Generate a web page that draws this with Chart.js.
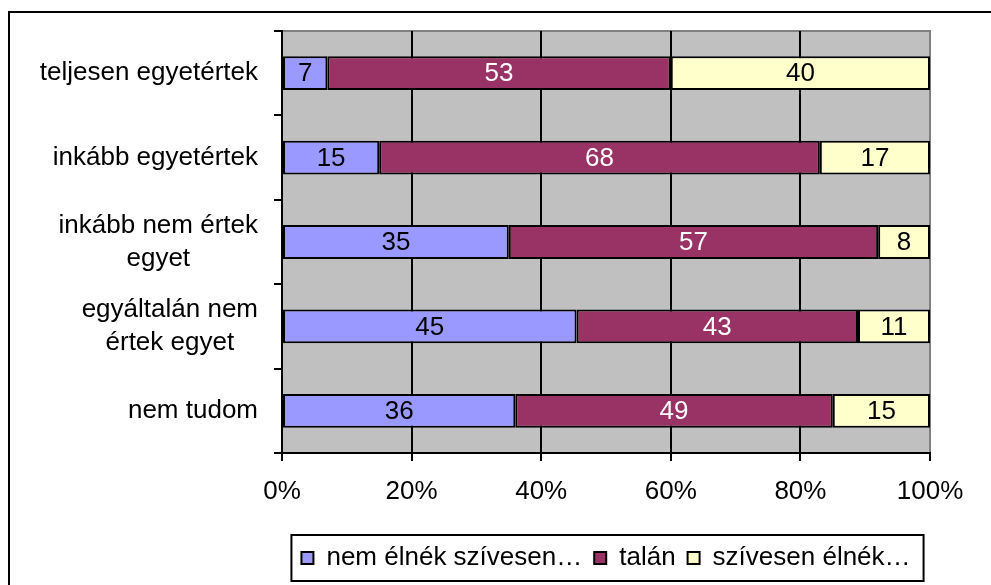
<!DOCTYPE html>
<html lang="hu">
<head>
    <meta charset="UTF-8">
    <title>Kérdőív</title>
    <script src="https://cdn.jsdelivr.net/npm/chart.js"></script>
    <style>
        body {
            margin: 0;
            padding: 0;
            background: #fff;
        }
        .wrap {
            width: 991px;
            height: 585px;
            position: relative;
        }
    </style>
</head>
<body>
<div class="wrap">
    <canvas id="chart"></canvas>
</div>
<script>
    const categories = ['teljesen egyetértek', 'inkább egyetértek', ['inkább nem értek', 'egyet'], ['egyáltalán nem', 'értek egyet'], 'nem tudom'];
    const seriesNames = ['nem élnék szívesen…', 'talán', 'szívesen élnék…'];
    const nemElnek = [7, 15, 35, 45, 36];
    const talan = [53, 68, 57, 43, 49];
    const szivesen = [40, 17, 8, 11, 15];
    const xTickValues = [0, 20, 40, 60, 80, 100];

    const FONT = '"Liberation Sans", Arial, sans-serif';
    const raw = [nemElnek, talan, szivesen];
    const totals = categories.map((c, i) => nemElnek[i] + talan[i] + szivesen[i]);
    const toPct = arr => arr.map((v, i) => v / totals[i] * 100);

    const colors = ['#9999ff', '#993366', '#ffffcc'];
    const labelColors = ['#000', '#fff', '#000'];

    // grey plot area + outer frame + legend frame
    const framePlugin = {
        id: 'frame',
        beforeDraw(chart) {
            const ctx = chart.ctx;
            const a = chart.chartArea;
            ctx.save();
            ctx.fillStyle = '#fff';
            ctx.fillRect(0, 0, chart.width, chart.height);
            ctx.strokeStyle = '#000';
            ctx.lineWidth = 2;
            ctx.strokeRect(9, 12, chart.width + 20, chart.height + 20);
            ctx.fillStyle = '#c0c0c0';
            ctx.fillRect(a.left, a.top, a.right - a.left, a.bottom - a.top);
            ctx.strokeStyle = '#808080';
            ctx.lineWidth = 2;
            ctx.strokeRect(a.left, a.top, a.right - a.left, a.bottom - a.top);
            ctx.restore();
        },
        afterDraw(chart) {
            const ctx = chart.ctx;
            const hb = chart.legend.legendHitBoxes;
            if (!hb || !hb.length) return;
            const first = hb[0], last = hb[hb.length - 1];
            const cy = first.top + first.height / 2;
            ctx.save();
            ctx.strokeStyle = '#000';
            ctx.lineWidth = 2;
            ctx.strokeRect(first.left - 10, cy - 23, last.left + last.width - first.left + 23, 46);
            ctx.restore();
        }
    };

    // category labels, right aligned block with centred lines
    const catLabelPlugin = {
        id: 'catLabels',
        afterDraw(chart) {
            const ctx = chart.ctx;
            const y = chart.scales.y;
            const lineH = 33;
            ctx.save();
            ctx.font = '26px ' + FONT;
            ctx.fillStyle = '#000';
            ctx.textBaseline = 'middle';
            ctx.textAlign = 'center';
            categories.forEach((cat, i) => {
                const lines = Array.isArray(cat) ? cat : [cat];
                const w = Math.max(...lines.map(l => ctx.measureText(l).width));
                const cx = y.right - 24 - w / 2;
                const cy = y.getPixelForValue(i);
                lines.forEach((l, k) => {
                    ctx.fillText(l, cx, cy + (k - (lines.length - 1) / 2) * lineH);
                });
            });
            ctx.restore();
        }
    };

    const valueLabelPlugin = {
        id: 'valueLabels',
        afterDatasetsDraw(chart) {
            const ctx = chart.ctx;
            ctx.save();
            ctx.font = '26px ' + FONT;
            ctx.textAlign = 'center';
            ctx.textBaseline = 'middle';
            chart.data.datasets.forEach((ds, di) => {
                const meta = chart.getDatasetMeta(di);
                meta.data.forEach((bar, i) => {
                    ctx.fillStyle = labelColors[di];
                    ctx.fillText(String(raw[di][i]), (bar.x + bar.base) / 2, bar.y + 1);
                });
            });
            ctx.restore();
        }
    };

    new Chart(document.getElementById('chart'), {
        type: 'bar',
        data: {
            labels: categories,
            datasets: seriesNames.map((name, i) => ({
                label: name,
                data: toPct(raw[i]),
                backgroundColor: colors[i],
                borderColor: '#000',
                borderWidth: 2,
                borderSkipped: false,
                barPercentage: 0.4,
                categoryPercentage: 1
            }))
        },
        options: {
            indexAxis: 'y',
            responsive: true,
            maintainAspectRatio: false,
            animation: false,
            layout: {
                padding: { left: 0, right: 61, top: 31, bottom: 4 }
            },
            plugins: {
                tooltip: { enabled: false },
                legend: {
                    position: 'bottom',
                    fullSize: false,
                    labels: {
                        color: '#000',
                        font: { family: FONT, size: 26 },
                        boxWidth: 12,
                        boxHeight: 12,
                        padding: 12
                    }
                }
            },
            scales: {
                x: {
                    stacked: true,
                    min: 0,
                    max: 100,
                    afterBuildTicks: s => { s.ticks = xTickValues.map(v => ({ value: v })); },
                    afterFit: s => { s.height = 80; },
                    grid: {
                        color: ctx => ctx.tick && ctx.tick.value === 100 ? 'rgba(0,0,0,0)' : '#000',
                        tickColor: '#000',
                        lineWidth: 2,
                        tickLength: 8
                    },
                    border: { color: '#000', width: 2 },
                    ticks: {
                        color: '#000',
                        font: { family: FONT, size: 26 },
                        padding: 15,
                        maxRotation: 0,
                        callback: v => v + '%'
                    }
                },
                y: {
                    stacked: true,
                    afterFit: s => { s.width = 282; },
                    grid: {
                        drawOnChartArea: false,
                        drawTicks: true,
                        tickLength: 8,
                        tickColor: '#000',
                        lineWidth: 2,
                        offset: true
                    },
                    border: { color: '#000', width: 2 },
                    ticks: { display: false }
                }
            }
        },
        plugins: [framePlugin, catLabelPlugin, valueLabelPlugin]
    });
</script>
</body>
</html>
